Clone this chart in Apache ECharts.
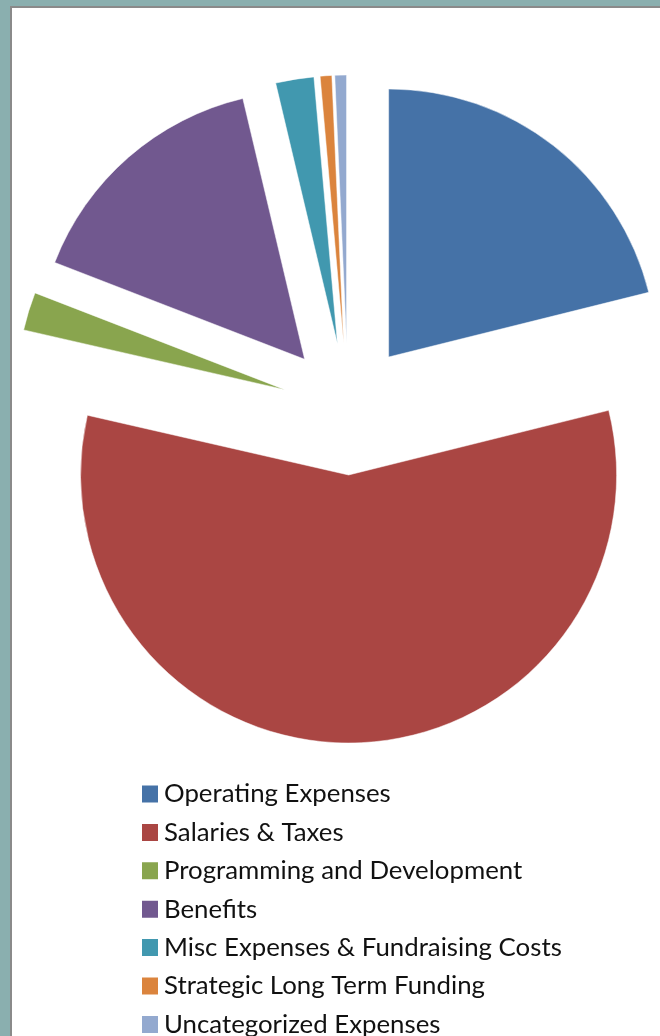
<!DOCTYPE html>
<html>
<head>
<meta charset="utf-8">
<script src="https://cdn.jsdelivr.net/npm/echarts@6/dist/echarts.min.js"></script>
<style>
  html, body { margin: 0; padding: 0; background: #8aafaf; }
  #frame { position: absolute; left: 10px; top: 6px; width: 660px; height: 1040px;
           background: #fff; border-left: 2px solid #8a8a8a; border-top: 2px solid #8a8a8a; }
  #main { position: absolute; left: 0; top: 0; width: 660px; height: 1036px; }
</style>
</head>
<body>
<div id="frame"></div>
<div id="main"></div>
<script>
// categories and share of total (%)
var categories = ['Operating Expenses', 'Salaries & Taxes', 'Programming and Development',
  'Benefits', 'Misc Expenses & Fundraising Costs', 'Strategic Long Term Funding', 'Uncategorized Expenses'];
var values = [21.1, 57.4, 2.3, 15.4, 2.3, 0.7, 0.7];
var colors = ['#4572a7', '#aa4643', '#89a54e', '#71588f', '#4198af', '#db843d', '#93a9cf'];

var chart = echarts.init(document.getElementById('main'));

var pieData = categories.map(function (name, i) {
  return {
    name: name,
    value: values[i],
    selected: true,
    itemStyle: { color: colors[i] },
    select: { itemStyle: { color: colors[i] } }
  };
});

var option = {
  backgroundColor: 'transparent',
  animation: false,
  color: colors,
  legend: {
    orient: 'vertical',
    left: 140,
    top: 781,
    height: 400,
    padding: 0,
    itemWidth: 18,
    itemHeight: 19,
    itemGap: 12.4,
    icon: 'rect',
    selectedMode: false,
    textStyle: { fontFamily: 'Lato', fontSize: 25.8, color: '#111', padding: [0, 0, 0, 0] },
    data: categories
  },
  series: [{
    type: 'pie',
    center: [348, 409],
    radius: [0, 268],
    startAngle: 90,
    clockwise: true,
    selectedMode: 'multiple',
    selectedOffset: 66,
    label: { show: false },
    labelLine: { show: false },
    itemStyle: { borderColor: '#fff', borderWidth: 0.5 },
    emphasis: { disabled: true },
    data: pieData
  }]
};

chart.setOption(option);
</script>
</body>
</html>
